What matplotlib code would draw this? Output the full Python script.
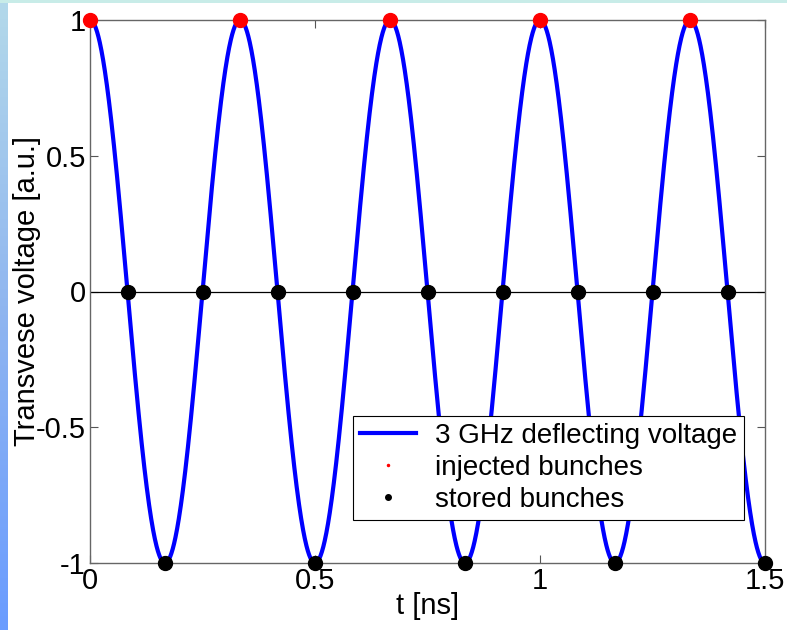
import numpy as np
import matplotlib
matplotlib.use("Agg")
import matplotlib.pyplot as plt

plt.rcParams['font.family'] = ['Liberation Sans', 'DejaVu Sans']

# deflecting voltage, 3 GHz
freq_ghz = 3.0
t_start, t_end = 0.0, 1.5

# bunch arrival times [ns]
injected_t = [0.0, 1/3, 2/3, 1.0, 4/3]
stored_zero_t = [1/12, 3/12, 5/12, 7/12, 9/12, 11/12, 13/12, 15/12, 17/12]
stored_min_t = [1/6, 1/2, 5/6, 7/6, 3/2]

x_ticks = [0, 0.5, 1, 1.5]
x_tick_labels = ['0', '0.5', '1', '1.5']
y_ticks = [-1, -0.5, 0, 0.5, 1]
y_tick_labels = ['-1', '-0.5', '0', '0.5', '1']

t = np.linspace(t_start, t_end, 2000)
v = np.cos(2 * np.pi * freq_ghz * t)

fig = plt.figure(figsize=(7.87, 6.30), dpi=100)

# slide-style backdrop: blue gradient strip on the left, pale cyan band on top
bg = fig.add_axes([0, 0, 1, 1], zorder=-10)
bg.set_xlim(0, 787)
bg.set_ylim(630, 0)
bg.axis('off')
grad = np.linspace(0, 1, 256)[:, None]
cmap = matplotlib.colors.LinearSegmentedColormap.from_list('strip', ['#b3d9ea', '#8fb5f0', '#6a9cff'])
bg.imshow(grad, cmap=cmap, extent=[0, 8, 630, 0], aspect='auto')
bg.add_patch(plt.Rectangle((0, 0), 787, 3, color='#c8ece8', lw=0))

ax = fig.add_axes([90/787, 1 - 563/630, (765 - 90)/787, (563 - 20)/630])
ax.plot(t, v, color='#0000ff', lw=3, label='3 GHz deflecting voltage', zorder=3)
ax.axhline(0, color='black', lw=0.9, zorder=2)

inj_v = np.cos(2 * np.pi * freq_ghz * np.array(injected_t))
ax.plot(injected_t, inj_v, 'o', color='#ff0000', ms=10, zorder=5, clip_on=False)
stored_t = np.array(stored_zero_t + stored_min_t)
stored_v = np.round(np.cos(2 * np.pi * freq_ghz * stored_t), 6)
ax.plot(stored_t, stored_v, 'o', color='black', ms=10, zorder=5, clip_on=False)

# legend handles with small markers
h_line, = ax.plot([], [], color='#0000ff', lw=3)
h_inj, = ax.plot([], [], '.', color='#ff0000', ms=3)
h_sto, = ax.plot([], [], '.', color='black', ms=8)
leg = ax.legend([h_line, h_inj, h_sto],
                ['3 GHz deflecting voltage', 'injected bunches', 'stored bunches'],
                loc='lower right', bbox_to_anchor=(0.969, 0.079),
                fontsize=20, frameon=True, fancybox=False, edgecolor='black',
                framealpha=1, borderpad=0.25, labelspacing=0.22, handlelength=2.0,
                handletextpad=0.7, borderaxespad=0)
leg.get_frame().set_linewidth(0.8)
leg.set_zorder(10)

ax.set_xlim(t_start, t_end)
ax.set_ylim(-1, 1)
ax.set_xticks(x_ticks)
ax.set_xticklabels(x_tick_labels)
ax.set_yticks(y_ticks)
ax.set_yticklabels(y_tick_labels)
ax.tick_params(direction='in', top=True, right=True, labelsize=21, length=6,
               color='#555555', pad=3)
for s in ax.spines.values():
    s.set_color('#666666')
    s.set_linewidth(1)
ax.set_xlabel('t [ns]', fontsize=21, labelpad=-2)
ax.set_ylabel('Transvese voltage [a.u.]', fontsize=21, labelpad=-4)

fig.savefig('out.png', dpi=100)
